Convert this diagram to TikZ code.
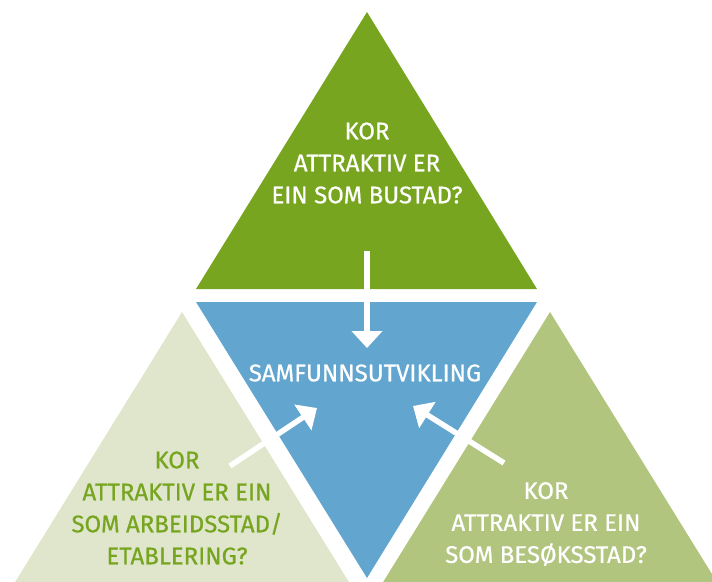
\documentclass[tikz,border=0pt]{standalone}
\usepackage{fontspec}
\setmainfont{Fira Sans}[FakeBold=0.6]
\usetikzlibrary{arrows.meta}

\definecolor{topgreen}{RGB}{119,165,31}
\definecolor{centreblue}{RGB}{98,166,208}
\definecolor{palegreen}{RGB}{223,230,203}
\definecolor{sagegreen}{RGB}{178,197,126}

\tikzset{
  label/.style={align=center, inner sep=0pt, font=\fontsize{24}{32}\selectfont},
  pointer/.style={draw=white, line width=5.5pt,
    -{Triangle[width=30pt,length=17pt]}},
}

\begin{document}
\begin{tikzpicture}[x=1pt,y=-1pt]
\useasboundingbox (0,0) rectangle (712,581);
\clip (0,0) rectangle (712,581);

% four triangles
\fill[topgreen]   (367,12)  -- (537,289) -- (196,289) -- cycle;
\fill[centreblue] (196,302) -- (537,302) -- (367,578) -- cycle;
\fill[palegreen]  (182,312) -- (360,600) -- (4,600)   -- cycle;
\fill[sagegreen]  (550,312) -- (728,600) -- (372,600) -- cycle;

% texts
\node[label, text=white] (home) at (367,163) {KOR\\ATTRAKTIV ER\\EIN SOM BUSTAD?};
\node[label, text=white] (core) at (365,373) {SAMFUNNSUTVIKLING};
\node[label, text=topgreen] (work) at (177,508) {KOR\\ATTRAKTIV ER EIN\\SOM ARBEIDSSTAD/\\ETABLERING?};
\node[label, text=white] (visit) at (546,524) {KOR\\ATTRAKTIV ER EIN\\SOM BESØKSSTAD?};

% arrows into the centre
\coordinate (homeTail)  at (367,251);
\coordinate (homeTip)   at (367,348);
\coordinate (workTail)  at (230,466);
\coordinate (workTip)   at (317,408);
\coordinate (visitTail) at (504,463);
\coordinate (visitTip)  at (413,406);
\draw[pointer] (homeTail) -- (homeTip);
\draw[pointer] (workTail) -- (workTip);
\draw[pointer] (visitTail) -- (visitTip);
\end{tikzpicture}
\end{document}
